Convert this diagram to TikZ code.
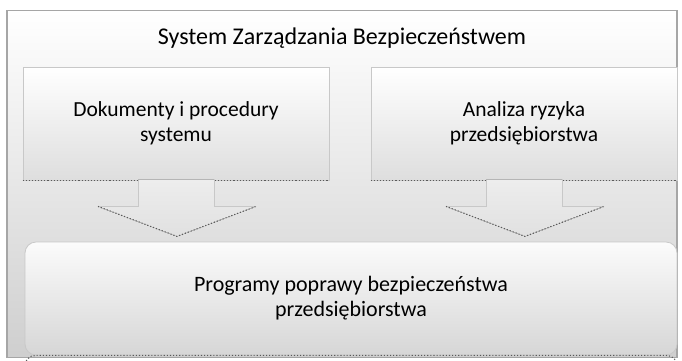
\documentclass[tikz,border=0pt]{standalone}
\usepackage{fontspec}
\setmainfont{Carlito}
\usetikzlibrary{calc}
\definecolor{edgegray}{HTML}{A6A6A6}
\definecolor{lightedge}{HTML}{C8C8C8}
\definecolor{dotgray}{HTML}{5A5A5A}
\begin{document}
\begin{tikzpicture}[x=1pt,y=-1pt,
  outerbox/.style={draw=edgegray, line width=1.6pt, top color=white, bottom color=gray!38, minimum width=670pt, minimum height=347pt, inner sep=0pt},
  panel/.style={draw=lightedge, line width=0.8pt, top color=white, bottom color=gray!26, minimum width=306pt, minimum height=113pt, inner sep=0pt, align=center, font=\fontsize{21.5}{24.5}\selectfont},
  basebox/.style={draw=lightedge, line width=0.8pt, rounded corners=11pt, top color=white!97!gray, bottom color=gray!32, minimum width=652pt, minimum height=113pt, inner sep=0pt, align=center, font=\fontsize{22}{25}\selectfont},
  titletext/.style={font=\fontsize{24}{28}\selectfont, inner sep=0pt},
  dotline/.style={draw=dotgray, line width=1.1pt, dotted},
  arrowfill/.style={top color=gray!14, bottom color=gray!24},
  shaftedge/.style={draw=lightedge, line width=0.8pt},
  faint/.style={draw=gray!45, line width=0.4pt, dash pattern=on 2pt off 1pt}
]
\useasboundingbox (0,0) rectangle (682,360);
\fill[white] (0,0) rectangle (682,360);
% outer frame
\node[outerbox] (O) at (342,184) {};
\node[titletext] (T) at (342,38) {System Zarządzania Bezpieczeństwem};
% top panels
\node[panel] (L) at (176,123.5) {Dokumenty i procedury\\systemu};
\node[panel] (R) at (524,123.5) {Analiza ryzyka\\przedsiębiorstwa};
\draw[dotline] (L.south west) -- (L.south east);
\draw[dotline] (R.south west) -- (R.south east);
% bottom box
\node[basebox] (B) at (351,298.5) {Programy poprawy bezpieczeństwa\\przedsiębiorstwa};
\draw[faint] ([xshift=6pt,yshift=-22pt]B.south west) -- ([xshift=-2pt,yshift=-22pt]B.south east);
\draw[faint] ([xshift=6pt,yshift=-17pt]B.south west) -- ([xshift=-2pt,yshift=-17pt]B.south east);
\draw[faint] ([xshift=6pt,yshift=-12pt]B.south west) -- ([xshift=-2pt,yshift=-12pt]B.south east);
\draw[dotline, rounded corners=11pt] ([yshift=-30pt]B.south west) -- (B.south west) -- (B.south east) -- ([yshift=-30pt]B.south east);
% block arrows
\foreach \src in {L,R}{
  \coordinate (\src a) at ([xshift=-38pt]\src.south);
  \coordinate (\src b) at ([xshift=38pt]\src.south);
  \coordinate (\src c) at ([xshift=38pt,yshift=-26pt]\src.south);
  \coordinate (\src d) at ([xshift=80pt,yshift=-26pt]\src.south);
  \coordinate (\src t) at ([xshift=1pt,yshift=-56pt]\src.south);
  \coordinate (\src e) at ([xshift=-78pt,yshift=-26pt]\src.south);
  \coordinate (\src f) at ([xshift=-38pt,yshift=-26pt]\src.south);
  \fill[arrowfill] ([yshift=1pt]\src a) -- ([yshift=1pt]\src b) -- (\src c) -- (\src d) -- (\src t) -- (\src e) -- (\src f) -- cycle;
  \draw[shaftedge] (\src a) -- (\src f) -- (\src e);
  \draw[shaftedge] (\src b) -- (\src c) -- (\src d);
  \draw[dotline] (\src e) -- (\src t) -- (\src d);
}
\end{tikzpicture}
\end{document}
